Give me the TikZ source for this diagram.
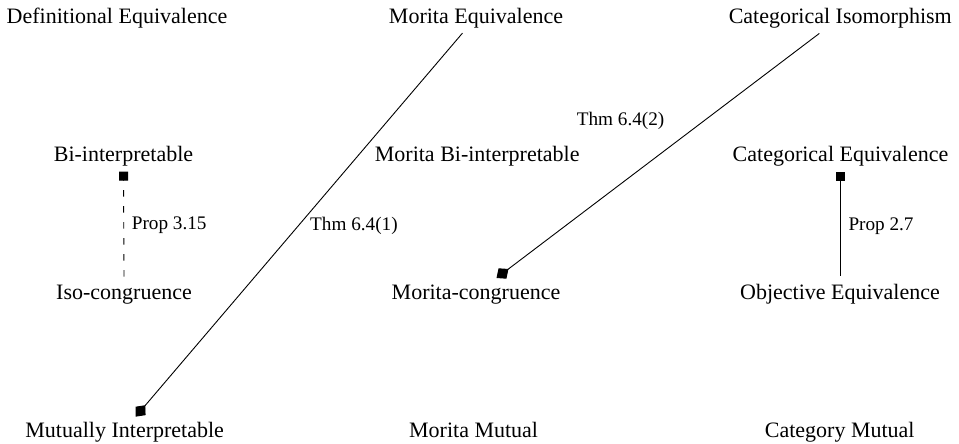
\documentclass[tikz,border=0pt]{standalone}
\usepackage{fontspec}
\setmainfont{Liberation Serif}
\usetikzlibrary{arrows.meta}
\tikzset{
  term/.style={inner sep=0pt, anchor=base, font=\fontsize{22}{26}\selectfont},
  lbl/.style={inner sep=0pt, anchor=base west, font=\fontsize{19.2}{23}\selectfont},
  sqtip/.style={-{Square[length=9pt,width=9pt]}},
  dmtip/.style={-{Diamond[length=15pt,width=13pt]}},
  conn/.style={line width=0.9pt},
  dashconn/.style={line width=0.9pt, dash pattern=on 6.5pt off 9.5pt}
}
\begin{document}
\begin{tikzpicture}[x=1pt,y=-1pt]
\useasboundingbox (0,0) rectangle (959,444);
% row 1
\node[term] (DefEq)  at (117,24)    {Definitional Equivalence};
\node[term] (MorEq)  at (476,24)    {Morita Equivalence};
\node[term] (CatIso) at (840.3,24)  {Categorical Isomorphism};
% row 2
\node[term] (BiInt)  at (123.5,161.7) {Bi-interpretable};
\node[term] (MorBi)  at (477.2,161.7) {Morita Bi-interpretable};
\node[term] (CatEq)  at (840.5,161.7) {Categorical Equivalence};
% row 3
\node[term] (IsoC)   at (124,299.3)   {Iso-congruence};
\node[term] (MorC)   at (476,299.3)   {Morita-congruence};
\node[term] (ObjEq)  at (840,299.3)   {Objective Equivalence};
% row 4
\node[term] (MutInt) at (124.7,437.3) {Mutually Interpretable};
\node[term] (MorMut) at (473.6,437.3) {Morita Mutual};
\node[term] (CatMut) at (839.7,437.3) {Category Mutual};
% labels
\node[lbl] (L1) at (131.7,229.3) {Prop 3.15};
\node[lbl] (L2) at (848.3,230)   {Prop 2.7};
\node[lbl] (L3) at (310,230)     {Thm 6.4(1)};
\node[lbl] (L4) at (576.7,125)   {Thm 6.4(2)};
% connectors
\draw[dashconn, sqtip] ([yshift=8pt]IsoC.north) -- ([yshift=-5pt]BiInt.south);
\draw[conn, sqtip] ([xshift=0.7pt,yshift=8pt]ObjEq.north) -- ([xshift=0.2pt,yshift=-5pt]CatEq.south);
\draw[conn, dmtip] ([xshift=-13.5pt,yshift=-4.2pt]MorEq.south) -- ([xshift=11pt,yshift=5.2pt]MutInt.north);
\draw[conn, dmtip] ([xshift=-21pt,yshift=-4.5pt]CatIso.south) -- ([xshift=20.5pt,yshift=6.5pt]MorC.north);
\end{tikzpicture}
\end{document}
